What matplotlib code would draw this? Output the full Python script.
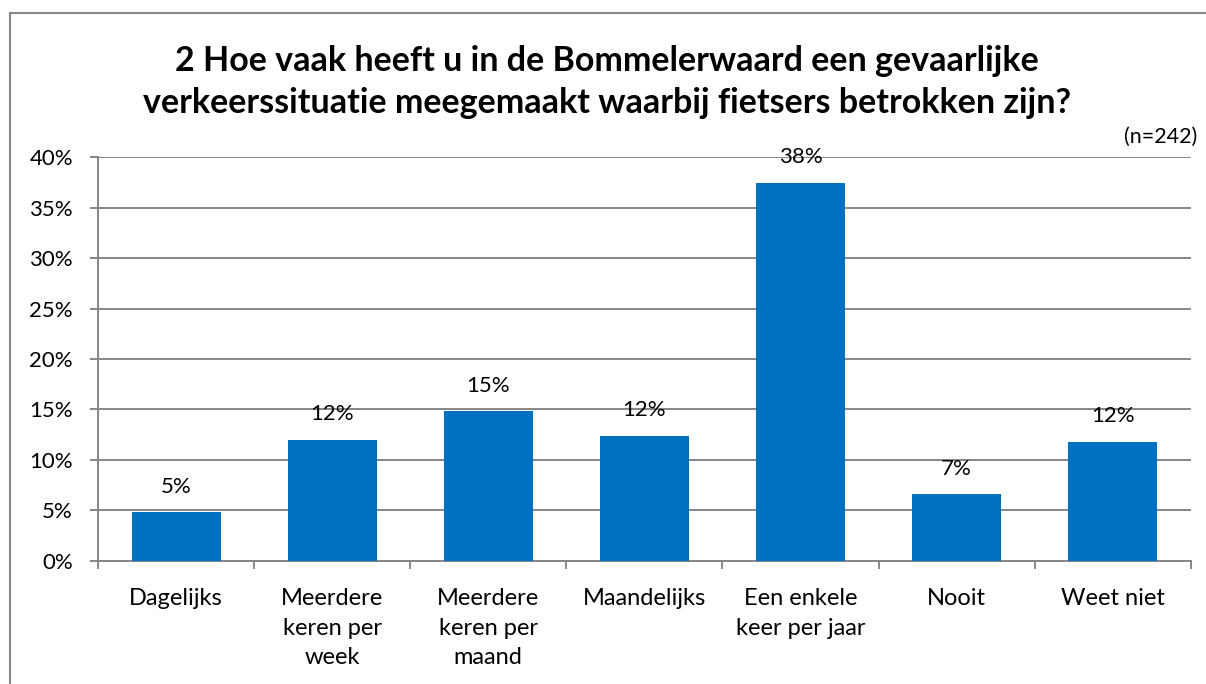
import matplotlib
matplotlib.use('Agg')
import matplotlib.pyplot as plt
import numpy as np
from matplotlib.patches import Rectangle
from matplotlib.ticker import MultipleLocator, FuncFormatter

plt.rcParams['font.family'] = ['Lato', 'DejaVu Sans']

categories = ['Dagelijks', 'Meerdere\nkeren per\nweek', 'Meerdere\nkeren per\nmaand',
              'Maandelijks', 'Een enkele\nkeer per jaar', 'Nooit', 'Weet niet']
values = [4.8, 12.0, 14.8, 12.4, 37.5, 6.6, 11.8]
labels = ['5%', '12%', '15%', '12%', '38%', '7%', '12%']

title = ('2 Hoe vaak heeft u in de Bommelerwaard een gevaarlijke\n'
         'verkeerssituatie meegemaakt waarbij fietsers betrokken zijn?')

grid_col = '#868686'

fig = plt.figure(figsize=(12.06, 6.84), dpi=100)
ax = fig.add_axes([98 / 1206, 1 - 560.7 / 684, (1190.7 - 98) / 1206, (560.7 - 157.3) / 684])

x = np.arange(len(categories))
ax.bar(x, values, width=0.57, color='#0070C0', zorder=3)

for xi, v, lab in zip(x, values, labels):
    ax.annotate(lab, (xi, v), xytext=(0, 14), textcoords='offset points',
                ha='center', va='baseline', fontsize=16, color='black')

ax.set_xlim(-0.5, len(categories) - 0.5)
ax.set_ylim(0, 40)
ax.yaxis.set_major_locator(MultipleLocator(5))
ax.yaxis.set_major_formatter(FuncFormatter(lambda v, p: f'{v:.0f}%'))
ax.grid(axis='y', color=grid_col, linewidth=1.4, zorder=0)

ax.set_xticks(x)
ax.set_xticklabels(categories, fontsize=17, linespacing=1.5, va='top')
ax.set_xticks(np.arange(-0.5, len(categories)), minor=True)
ax.tick_params(axis='x', which='major', length=0, pad=20)
ax.tick_params(axis='x', which='minor', length=6, width=1.4, color=grid_col, direction='out')
ax.tick_params(axis='y', length=6, width=1.4, color=grid_col, pad=12, labelsize=16)

for side in ['top', 'right']:
    ax.spines[side].set_visible(False)
for side in ['left', 'bottom']:
    ax.spines[side].set_color(grid_col)
    ax.spines[side].set_linewidth(1.4)

fig.text(0.503, 1 - 82 / 684, title, ha='center', va='center', fontsize=24.5,
         fontweight='bold', linespacing=1.38)
fig.text(1197 / 1206, 1 - 143 / 684, '(n=242)', ha='right', va='baseline', fontsize=15.5)

# outer chart frame
fig.patches.append(Rectangle((10 / 1206, -0.1), 1.2, 1 - 13 / 684 + 0.1,
                             transform=fig.transFigure, fill=False,
                             edgecolor=grid_col, linewidth=1.5))

fig.savefig('out.png', dpi=100)
